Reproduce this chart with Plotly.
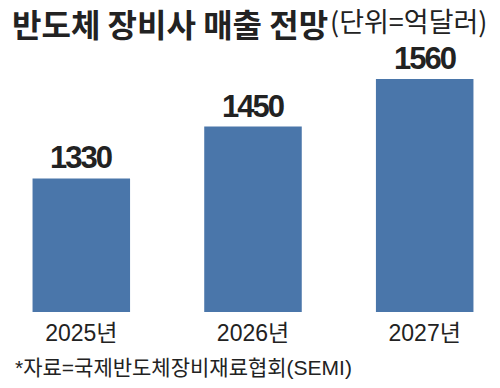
import plotly.graph_objects as go

categories = ["2025년", "2026년", "2027년"]
values = [1330, 1450, 1560]
value_labels = ["1330", "1450", "1560"]

title_main = "반도체 장비사 매출 전망"
title_unit = "(단위=억달러)"
source_note = "*자료=국제반도체장비재료협회(SEMI)"

BAR = "#4a76aa"
INK = "#222222"
LAT = "Liberation Sans, Noto Sans CJK KR, sans-serif"
KR = "Noto Sans CJK KR, sans-serif"

fig = go.Figure()
fig.add_trace(go.Bar(
    x=categories, y=values, width=0.568,
    marker=dict(color=BAR, line=dict(width=0)),
    hoverinfo="skip",
))

for c, v, t in zip(categories, values, value_labels):
    fig.add_annotation(x=c, y=v,
                       text=f"<span style='letter-spacing:-2px'><b>{t}</b></span>",
                       showarrow=False,
                       xanchor="center", yanchor="bottom", yshift=1,
                       font=dict(family=LAT, size=31, color=INK))

fig.add_annotation(xref="paper", yref="paper", x=0.022, y=1.0, yshift=1,
                   text=f"<b>{title_main}</b>", showarrow=False,
                   xanchor="left", yanchor="top", borderpad=0,
                   font=dict(family=KR, size=32, color=INK))
fig.add_annotation(xref="paper", yref="paper", x=0.658, y=1.0, yshift=0,
                   text=title_unit, showarrow=False,
                   xanchor="left", yanchor="top", borderpad=0,
                   font=dict(family=KR, size=27, color=INK))
fig.add_annotation(xref="paper", yref="paper", x=0.026, y=0, yshift=-42,
                   text=source_note, showarrow=False,
                   xanchor="left", yanchor="top",
                   font=dict(family=LAT, size=21, color=INK))

fig.update_layout(
    width=500, height=388,
    margin=dict(l=0, r=0, t=0, b=76, pad=0),
    paper_bgcolor="white", plot_bgcolor="white",
    showlegend=False,
    xaxis=dict(range=[-0.4735, 2.4386], showgrid=False, zeroline=False,
               showline=False, ticks="", ticklabelstandoff=5,
               tickfont=dict(family=LAT, size=23, color=INK)),
    yaxis=dict(range=[1021, 1743], visible=False, showgrid=False, zeroline=False),
)

fig.write_html("out.html", config={"displayModeBar": False},
               post_script="document.body.style.margin='0';")
